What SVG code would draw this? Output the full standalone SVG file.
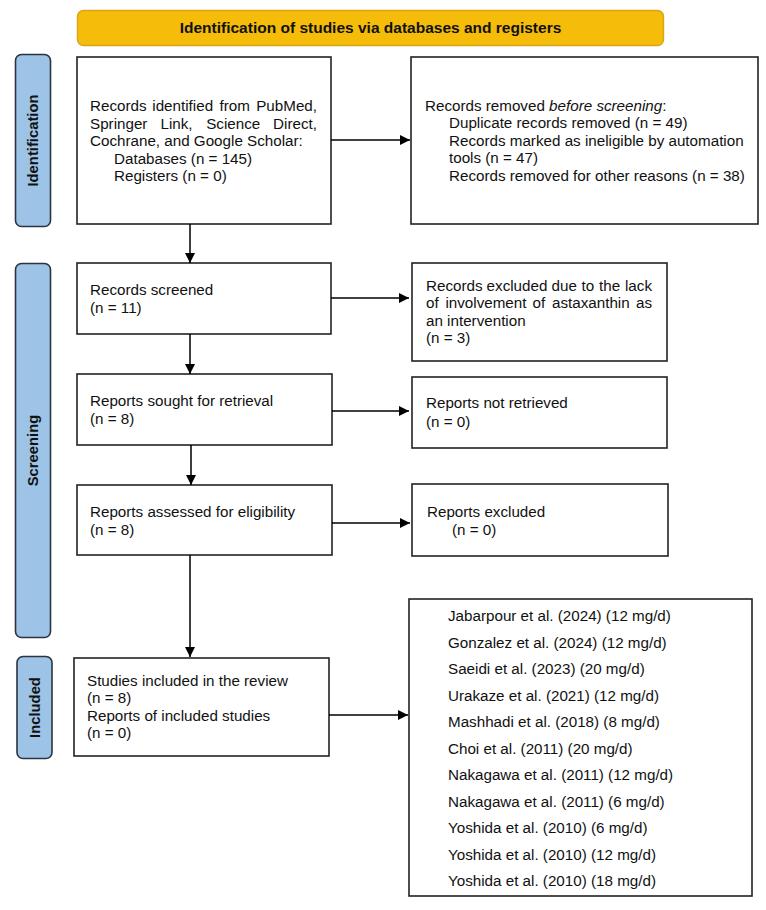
<svg xmlns="http://www.w3.org/2000/svg" width="766" height="910" viewBox="0 0 766 910">
<defs>
<marker id="ah" viewBox="0 0 10 10" refX="10" refY="5" markerWidth="10" markerHeight="10" markerUnits="userSpaceOnUse" orient="auto">
<path d="M0,0 L10,5 L0,10 z" fill="#000"/>
</marker>
<style>
.box{fill:#fff;stroke:#222;stroke-width:1.6}
.side{fill:#9DC3E6;stroke:#2B3441;stroke-width:1.6}
.hdr{fill:#F5BC0A;stroke:#D9A514;stroke-width:1.4}
.t{font-family:"Liberation Sans",Arial,sans-serif;font-size:15.2px;fill:#111}
.st{font-family:"Liberation Sans",Arial,sans-serif;font-size:14.8px;font-weight:bold;fill:#111}
.ht{font-family:"Liberation Sans",Arial,sans-serif;font-size:15.5px;font-weight:bold;fill:#111}
.c{stroke:#000;stroke-width:1.5;fill:none;marker-end:url(#ah)}
</style>
</defs>
<rect width="766" height="910" fill="#fff"/>

<g id="header">
<rect class="hdr" x="77.5" y="10.5" width="586" height="35" rx="6"/>
<text class="ht" x="370.5" y="33" text-anchor="middle">Identification of studies via databases and registers</text>
</g>

<g id="side-identification">
<rect class="side" x="15.5" y="54.5" width="35" height="172" rx="6"/>
<text class="st" transform="translate(38,140.5) rotate(-90)" text-anchor="middle">Identification</text>
</g>
<g id="side-screening">
<rect class="side" x="15.5" y="263.5" width="35" height="374" rx="6"/>
<text class="st" transform="translate(38,450.5) rotate(-90)" text-anchor="middle">Screening</text>
</g>
<g id="side-included">
<rect class="side" x="17" y="656.5" width="35" height="102" rx="6"/>
<text class="st" transform="translate(39.5,707.5) rotate(-90)" text-anchor="middle">Included</text>
</g>

<g id="n-identified">
<rect class="box" x="77" y="57" width="254" height="167"/>
<text class="t" y="111"><tspan x="90">Records</tspan><tspan x="152.3">identified</tspan><tspan x="219.5">from</tspan><tspan x="317" text-anchor="end">PubMed,</tspan></text>
<text class="t" y="129"><tspan x="90">Springer</tspan><tspan x="160.5">Link,</tspan><tspan x="206.2">Science</tspan><tspan x="317" text-anchor="end">Direct,</tspan></text>
<text class="t" x="90" y="146">Cochrane, and Google Scholar:</text>
<text class="t" x="114" y="164">Databases (n = 145)</text>
<text class="t" x="114" y="181">Registers (n = 0)</text>
</g>

<g id="n-removed">
<rect class="box" x="411" y="57" width="347" height="167"/>
<text class="t" x="425" y="111">Records removed <tspan font-style="italic">before screening</tspan>:</text>
<text class="t" x="449" y="128">Duplicate records removed (n = 49)</text>
<text class="t" x="449" y="146">Records marked as ineligible by automation</text>
<text class="t" x="449" y="163">tools (n = 47)</text>
<text class="t" x="449" y="181">Records removed for other reasons (n = 38)</text>
</g>

<g id="n-screened">
<rect class="box" x="77" y="263" width="254" height="71"/>
<text class="t" x="90" y="295">Records screened</text>
<text class="t" x="90" y="313">(n = 11)</text>
</g>

<g id="n-excluded">
<rect class="box" x="412" y="263" width="255" height="98"/>
<text class="t" y="291"><tspan x="426">Records</tspan><tspan x="486.6">excluded</tspan><tspan x="551.6">due</tspan><tspan x="581.6">to</tspan><tspan x="599.1">the</tspan><tspan x="652" text-anchor="end">lack</tspan></text>
<text class="t" y="308"><tspan x="426">of</tspan><tspan x="445.4">involvement</tspan><tspan x="532.5">of</tspan><tspan x="552">astaxanthin</tspan><tspan x="652" text-anchor="end">as</tspan></text>
<text class="t" x="426" y="326">an intervention</text>
<text class="t" x="426" y="343">(n = 3)</text>
</g>

<g id="n-sought">
<rect class="box" x="77" y="374" width="255" height="71"/>
<text class="t" x="90" y="406">Reports sought for retrieval</text>
<text class="t" x="90" y="424">(n = 8)</text>
</g>

<g id="n-notretrieved">
<rect class="box" x="412" y="377" width="255" height="71"/>
<text class="t" x="426" y="408">Reports not retrieved</text>
<text class="t" x="426" y="427">(n = 0)</text>
</g>

<g id="n-assessed">
<rect class="box" x="77" y="485" width="255" height="70"/>
<text class="t" x="90" y="517">Reports assessed for eligibility</text>
<text class="t" x="90" y="535">(n = 8)</text>
</g>

<g id="n-reportsexcluded">
<rect class="box" x="412" y="484" width="256" height="72"/>
<text class="t" x="427" y="517">Reports excluded</text>
<text class="t" x="452" y="535">(n = 0)</text>
</g>

<g id="n-included">
<rect class="box" x="74" y="658" width="255" height="98"/>
<text class="t" x="87" y="686">Studies included in the review</text>
<text class="t" x="87" y="703">(n = 8)</text>
<text class="t" x="87" y="721">Reports of included studies</text>
<text class="t" x="87" y="738">(n = 0)</text>
</g>

<g id="n-studies">
<rect class="box" x="409" y="599" width="343" height="297"/>
<text class="t" x="448" y="621">Jabarpour et al. (2024) (12 mg/d)</text>
<text class="t" x="448" y="647.5">Gonzalez et al. (2024) (12 mg/d)</text>
<text class="t" x="448" y="674">Saeidi et al. (2023) (20 mg/d)</text>
<text class="t" x="448" y="700.5">Urakaze et al. (2021) (12 mg/d)</text>
<text class="t" x="448" y="727">Mashhadi et al. (2018) (8 mg/d)</text>
<text class="t" x="448" y="753.5">Choi et al. (2011) (20 mg/d)</text>
<text class="t" x="448" y="780">Nakagawa et al. (2011) (12 mg/d)</text>
<text class="t" x="448" y="806.5">Nakagawa et al. (2011) (6 mg/d)</text>
<text class="t" x="448" y="833">Yoshida et al. (2010) (6 mg/d)</text>
<text class="t" x="448" y="859.5">Yoshida et al. (2010) (12 mg/d)</text>
<text class="t" x="448" y="886">Yoshida et al. (2010) (18 mg/d)</text>
</g>

<g id="connectors">
<line class="c" x1="331" y1="140" x2="410" y2="140"/>
<line class="c" x1="190" y1="224" x2="190" y2="263"/>
<line class="c" x1="331" y1="298" x2="409" y2="298"/>
<line class="c" x1="190" y1="334" x2="190" y2="374"/>
<line class="c" x1="332" y1="411" x2="409" y2="411"/>
<line class="c" x1="191" y1="445" x2="191" y2="485"/>
<line class="c" x1="332" y1="523" x2="410" y2="523"/>
<line class="c" x1="190" y1="555" x2="190" y2="657"/>
<line class="c" x1="329" y1="715" x2="408" y2="715"/>
</g>
</svg>
